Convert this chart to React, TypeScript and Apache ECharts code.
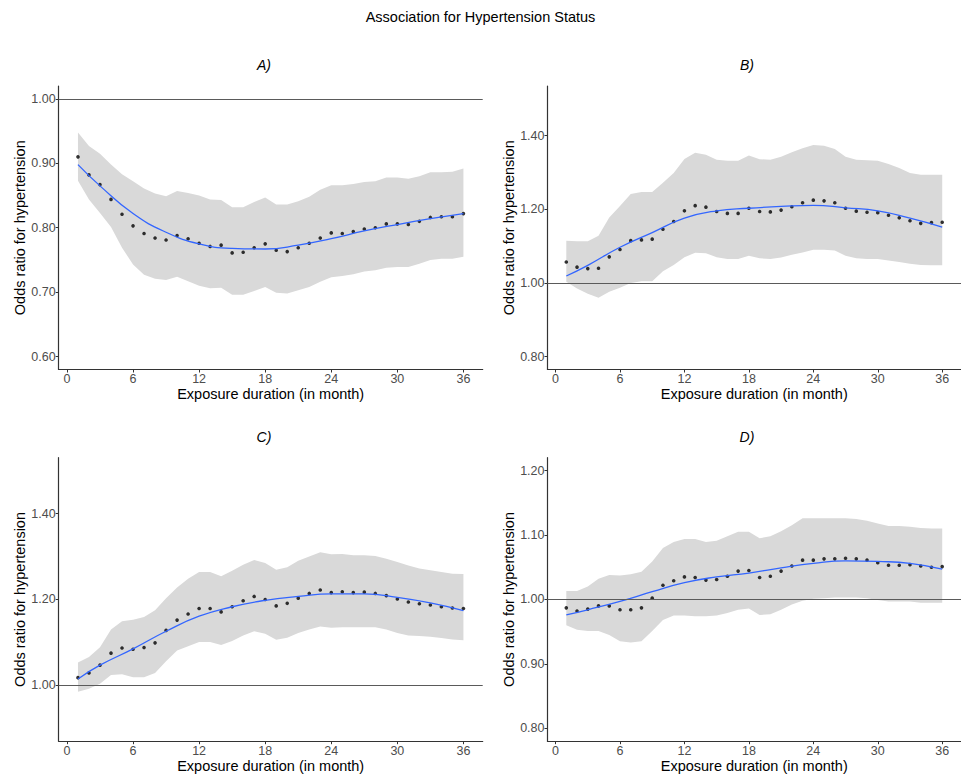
import React, { useEffect, useRef } from "react";
import * as echarts from "echarts";

const months = [1, 2, 3, 4, 5, 6, 7, 8, 9, 10, 11, 12, 13, 14, 15, 16, 17, 18, 19, 20, 21, 22, 23, 24, 25, 26, 27, 28, 29, 30, 31, 32, 33, 34, 35, 36];
const smoothMonths = [1, 3, 6, 9, 12, 15, 18, 21, 24, 27, 30, 33, 36];
const xTicks = [0, 6, 12, 18, 24, 30, 36];

// Panel A
const aPoints = [0.910, 0.882, 0.867, 0.844, 0.821, 0.803, 0.791, 0.784, 0.781, 0.788, 0.783, 0.776, 0.771, 0.773, 0.761, 0.762, 0.769, 0.775, 0.765, 0.763, 0.769, 0.776, 0.784, 0.792, 0.791, 0.794, 0.798, 0.800, 0.806, 0.806, 0.805, 0.810, 0.816, 0.817, 0.817, 0.822];
const aSmooth = [0.898, 0.865, 0.822, 0.793, 0.775, 0.768, 0.767, 0.773, 0.783, 0.795, 0.805, 0.814, 0.822];
const aUpper = [0.948, 0.927, 0.915, 0.898, 0.883, 0.872, 0.861, 0.853, 0.849, 0.857, 0.854, 0.850, 0.844, 0.843, 0.832, 0.832, 0.840, 0.847, 0.836, 0.836, 0.841, 0.848, 0.859, 0.866, 0.866, 0.868, 0.871, 0.872, 0.878, 0.878, 0.876, 0.880, 0.886, 0.886, 0.887, 0.892];
const aLower = [0.873, 0.844, 0.823, 0.801, 0.769, 0.743, 0.727, 0.721, 0.719, 0.724, 0.717, 0.710, 0.706, 0.707, 0.696, 0.696, 0.702, 0.708, 0.699, 0.698, 0.703, 0.708, 0.716, 0.723, 0.725, 0.728, 0.732, 0.734, 0.738, 0.739, 0.739, 0.744, 0.750, 0.752, 0.752, 0.755];
const aYTicks = [0.6, 0.7, 0.8, 0.9, 1.0];

// Panel B
const bPoints = [1.057, 1.043, 1.039, 1.040, 1.071, 1.091, 1.115, 1.117, 1.119, 1.146, 1.167, 1.196, 1.210, 1.206, 1.194, 1.189, 1.189, 1.203, 1.194, 1.193, 1.198, 1.207, 1.218, 1.225, 1.223, 1.218, 1.203, 1.195, 1.192, 1.191, 1.184, 1.177, 1.169, 1.162, 1.164, 1.165];
const bSmooth = [1.019, 1.048, 1.097, 1.137, 1.176, 1.196, 1.203, 1.208, 1.211, 1.204, 1.196, 1.176, 1.152];
const bUpper = [1.115, 1.113, 1.113, 1.128, 1.178, 1.209, 1.242, 1.247, 1.247, 1.272, 1.299, 1.337, 1.354, 1.348, 1.335, 1.332, 1.332, 1.346, 1.336, 1.335, 1.343, 1.355, 1.366, 1.375, 1.373, 1.364, 1.343, 1.335, 1.333, 1.332, 1.323, 1.312, 1.299, 1.294, 1.294, 1.294];
const bLower = [1.003, 0.985, 0.971, 0.960, 0.976, 0.987, 1.000, 1.005, 1.005, 1.032, 1.049, 1.070, 1.082, 1.081, 1.070, 1.065, 1.065, 1.074, 1.067, 1.065, 1.069, 1.077, 1.083, 1.090, 1.090, 1.088, 1.074, 1.067, 1.065, 1.065, 1.061, 1.057, 1.052, 1.049, 1.048, 1.048];
const bYTicks = [0.8, 1.0, 1.2, 1.4];

// Panel C
const cPoints = [1.018, 1.029, 1.047, 1.075, 1.087, 1.084, 1.088, 1.099, 1.128, 1.152, 1.166, 1.179, 1.179, 1.171, 1.183, 1.197, 1.207, 1.200, 1.185, 1.191, 1.203, 1.214, 1.222, 1.216, 1.218, 1.216, 1.217, 1.214, 1.209, 1.201, 1.194, 1.190, 1.187, 1.183, 1.180, 1.179];
const cSmooth = [1.015, 1.047, 1.085, 1.126, 1.161, 1.183, 1.198, 1.207, 1.213, 1.213, 1.205, 1.192, 1.174];
const cUpper = [1.053, 1.066, 1.089, 1.130, 1.149, 1.153, 1.159, 1.175, 1.203, 1.228, 1.248, 1.264, 1.264, 1.254, 1.267, 1.281, 1.292, 1.285, 1.269, 1.275, 1.290, 1.300, 1.310, 1.305, 1.306, 1.303, 1.303, 1.301, 1.295, 1.287, 1.279, 1.272, 1.268, 1.264, 1.260, 1.259];
const cLower = [0.985, 0.992, 1.004, 1.024, 1.026, 1.019, 1.019, 1.029, 1.056, 1.081, 1.091, 1.101, 1.101, 1.094, 1.103, 1.116, 1.126, 1.120, 1.106, 1.111, 1.122, 1.130, 1.137, 1.134, 1.135, 1.135, 1.135, 1.135, 1.130, 1.122, 1.116, 1.115, 1.113, 1.110, 1.107, 1.105];
const cYTicks = [1.0, 1.2, 1.4];

// Panel D
const dPoints = [0.987, 0.982, 0.985, 0.990, 0.990, 0.984, 0.984, 0.987, 1.002, 1.022, 1.029, 1.035, 1.034, 1.030, 1.031, 1.036, 1.044, 1.045, 1.034, 1.036, 1.044, 1.052, 1.061, 1.061, 1.063, 1.063, 1.064, 1.063, 1.061, 1.057, 1.053, 1.053, 1.054, 1.052, 1.050, 1.051];
const dSmooth = [0.976, 0.984, 0.997, 1.012, 1.026, 1.035, 1.041, 1.049, 1.056, 1.060, 1.059, 1.056, 1.047];
const dUpper = [1.013, 1.013, 1.020, 1.032, 1.038, 1.037, 1.039, 1.043, 1.059, 1.080, 1.089, 1.094, 1.094, 1.089, 1.091, 1.098, 1.105, 1.105, 1.095, 1.098, 1.106, 1.115, 1.126, 1.126, 1.126, 1.126, 1.126, 1.125, 1.122, 1.118, 1.114, 1.114, 1.113, 1.111, 1.110, 1.110];
const dLower = [0.960, 0.953, 0.951, 0.951, 0.945, 0.935, 0.933, 0.935, 0.951, 0.968, 0.975, 0.975, 0.974, 0.974, 0.975, 0.979, 0.984, 0.986, 0.976, 0.977, 0.984, 0.992, 0.998, 1.001, 1.002, 1.003, 1.003, 1.003, 1.002, 0.999, 0.997, 0.997, 0.997, 0.995, 0.995, 0.995];
const dYTicks = [0.8, 0.9, 1.0, 1.1, 1.2];

const panelTitles = ["A)", "B)", "C)", "D)"];
const mainTitle = "Association for Hypertension Status";
const xTitle = "Exposure duration (in month)";
const yTitle = "Odds ratio for hypertension";
const refValue = 1.0;

const FONT = "'Liberation Sans', Arial, sans-serif";

const panels = [
  { points: aPoints, smooth: aSmooth, upper: aUpper, lower: aLower, yTicks: aYTicks, yMin: 0.58, yMax: 1.02 },
  { points: bPoints, smooth: bSmooth, upper: bUpper, lower: bLower, yTicks: bYTicks, yMin: 0.765, yMax: 1.535 },
  { points: cPoints, smooth: cSmooth, upper: cUpper, lower: cLower, yTicks: cYTicks, yMin: 0.87, yMax: 1.53 },
  { points: dPoints, smooth: dSmooth, upper: dUpper, lower: dLower, yTicks: dYTicks, yMin: 0.78, yMax: 1.22 },
];

const layout = [
  { left: 58.7, top: 86, titleX: 264, titleY: 65 },
  { left: 547.5, top: 86, titleX: 747, titleY: 65 },
  { left: 58.7, top: 457.7, titleX: 264, titleY: 437 },
  { left: 547.5, top: 457.7, titleX: 747, titleY: 437 },
];
const GRID_W = 424;
const GRID_H = 283.5;

export default function App() {
  const ref = useRef<HTMLDivElement>(null);
  useEffect(() => {
    document.body.style.margin = "0";
    if (!ref.current) return;
    const chart = echarts.init(ref.current, null, { renderer: "svg" });
    const axisColor = "#333333";
    const grids: any[] = [];
    const xAxes: any[] = [];
    const yAxes: any[] = [];
    const series: any[] = [];
    const graphics: any[] = [
      {
        type: "text",
        x: 480.5,
        y: 17,
        style: { text: mainTitle, align: "center", verticalAlign: "middle", fontSize: 14.5, fontFamily: FONT, fill: "#000" },
      },
    ];
    panels.forEach((p, i) => {
      const L = layout[i];
      grids.push({ left: L.left, top: L.top, width: GRID_W, height: GRID_H, containLabel: false });
      xAxes.push({
        gridIndex: i,
        type: "value",
        min: -0.75,
        max: 37.75,
        splitLine: { show: false },
        axisLine: { show: true, onZero: false, lineStyle: { color: axisColor, width: 1.2 } },
        axisTick: { show: true, customValues: xTicks, length: 3, lineStyle: { color: axisColor } },
        axisLabel: { customValues: xTicks, color: "#4D4D4D", fontSize: 12.5, margin: 3, fontFamily: FONT },
        name: xTitle,
        nameLocation: "middle",
        nameGap: 16,
        nameTextStyle: { fontSize: 14.5, color: "#000", fontFamily: FONT, verticalAlign: "top" },
      });
      yAxes.push({
        gridIndex: i,
        type: "value",
        min: p.yMin,
        max: p.yMax,
        splitLine: { show: false },
        axisLine: { show: true, onZero: false, lineStyle: { color: axisColor, width: 1.2 } },
        axisTick: { show: true, customValues: p.yTicks, length: 3, lineStyle: { color: axisColor } },
        axisLabel: {
          customValues: p.yTicks,
          color: "#4D4D4D",
          fontSize: 12.5,
          margin: 3,
          fontFamily: FONT,
          formatter: (v: number) => v.toFixed(2),
        },
        name: yTitle,
        nameLocation: "middle",
        nameGap: 31,
        nameTextStyle: { fontSize: 14.5, color: "#000", fontFamily: FONT, verticalAlign: "bottom" },
      });
      series.push({
        type: "custom",
        xAxisIndex: i,
        yAxisIndex: i,
        silent: true,
        z: 1,
        encode: { x: 0, y: [1, 2] },
        data: months.map((m, k) => [m, p.lower[k], p.upper[k]]),
        renderItem: (params: any, api: any) => {
          if (params.dataIndex !== 0) return null;
          const top = months.map((m, k) => api.coord([m, p.upper[k]]));
          const bottom = months.map((m, k) => api.coord([m, p.lower[k]])).reverse();
          return {
            type: "polygon",
            shape: { points: top.concat(bottom) },
            style: { fill: "#D9D9D9", stroke: "none" },
          };
        },
      });
      series.push({
        type: "line",
        xAxisIndex: i,
        yAxisIndex: i,
        data: [],
        symbol: "none",
        markLine: {
          silent: true,
          symbol: "none",
          label: { show: false },
          lineStyle: { color: "#5A5A5A", width: 1.2, type: "solid" },
          data: [{ yAxis: refValue }],
        },
        z: 2,
      });
      series.push({
        type: "scatter",
        xAxisIndex: i,
        yAxisIndex: i,
        symbolSize: 3.6,
        itemStyle: { color: "#000" },
        data: months.map((m, k) => [m, p.points[k]]),
        z: 3,
      });
      series.push({
        type: "line",
        xAxisIndex: i,
        yAxisIndex: i,
        smooth: 0.5,
        symbol: "none",
        lineStyle: { color: "#3366FF", width: 1.3 },
        data: smoothMonths.map((m, k) => [m, p.smooth[k]]),
        z: 4,
      });
      graphics.push({
        type: "text",
        x: L.titleX,
        y: L.titleY,
        style: {
          text: panelTitles[i],
          align: "center",
          verticalAlign: "middle",
          fontSize: 14,
          fontStyle: "italic",
          fontFamily: FONT,
          fill: "#000",
        },
      });
    });
    chart.setOption({
      animation: false,
      backgroundColor: "#fff",
      grid: grids,
      xAxis: xAxes,
      yAxis: yAxes,
      series,
      graphic: graphics,
    });
    return () => chart.dispose();
  }, []);
  return <div ref={ref} style={{ width: 961, height: 775 }} />;
}
